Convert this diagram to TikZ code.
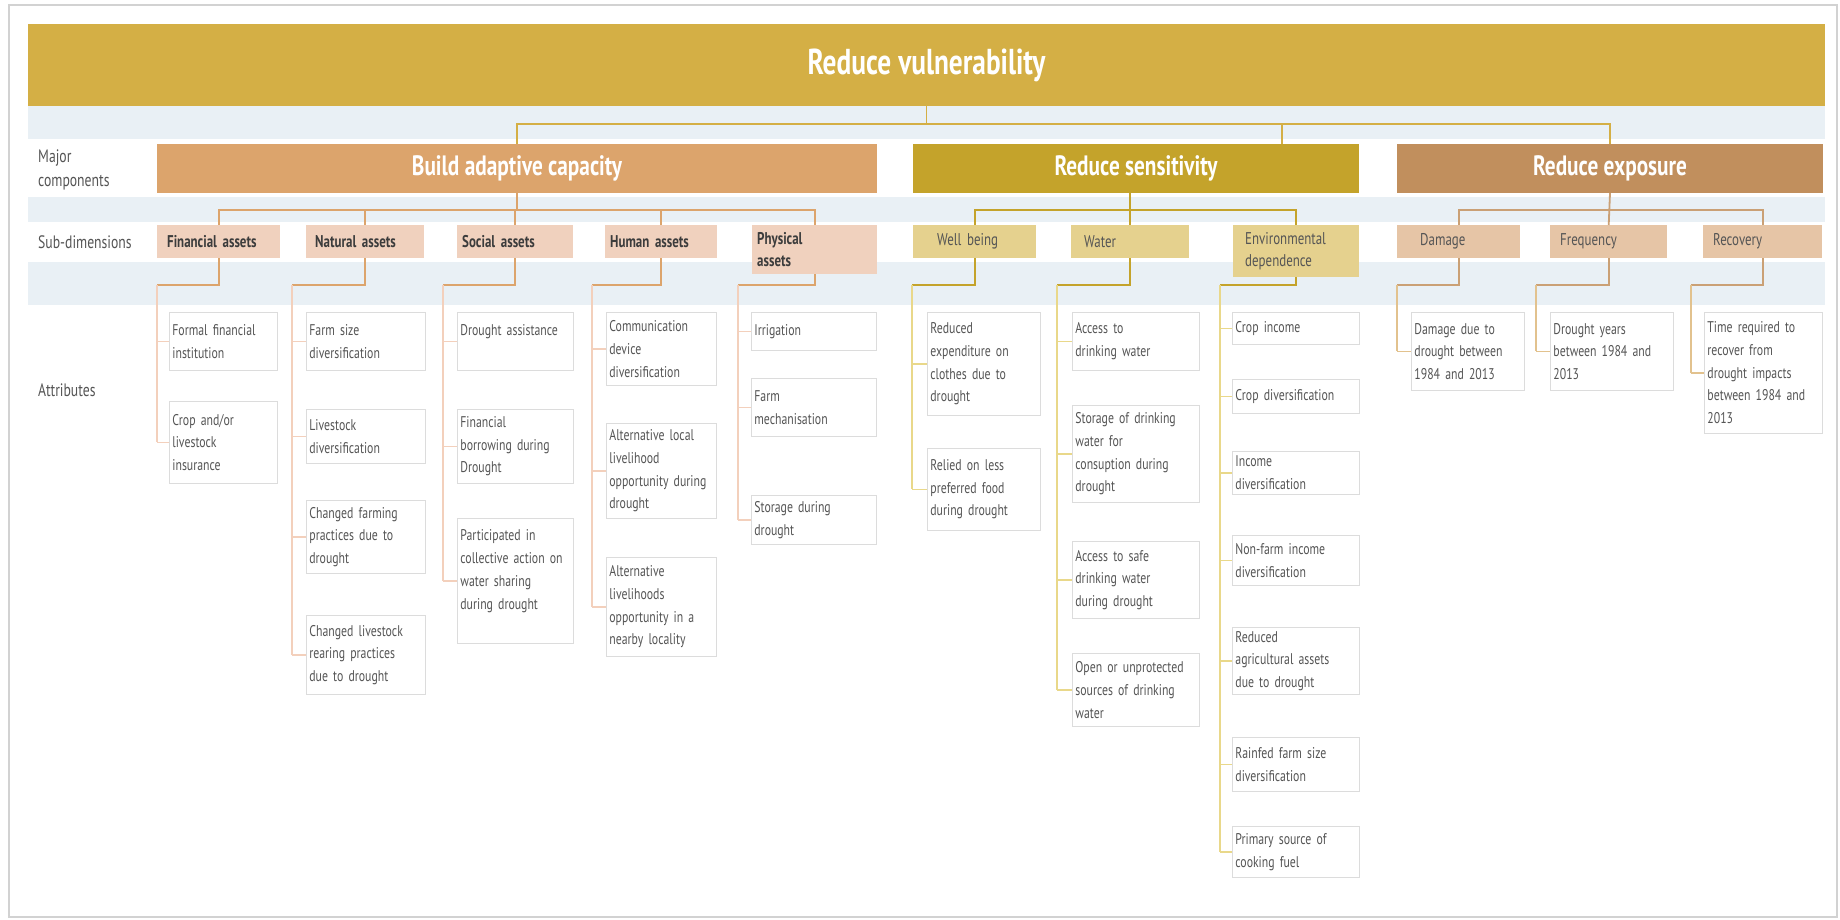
\documentclass[tikz,border=0pt]{standalone}
\usepackage{fontspec}
\setmainfont{PT Sans}[FakeStretch=0.76]
\usetikzlibrary{positioning,calc}

\definecolor{bannerc}{HTML}{D4AF45}
\definecolor{adaptc}{HTML}{DCA46C}
\definecolor{sensc}{HTML}{C4A32B}
\definecolor{expoc}{HTML}{C18F5D}
\definecolor{adaptsub}{HTML}{F0D1BE}
\definecolor{senssub}{HTML}{E5D18E}
\definecolor{exposub}{HTML}{E6C5A6}
\definecolor{adaptlt}{HTML}{F3D0BC}
\definecolor{senslt}{HTML}{E9D88A}
\definecolor{expolt}{HTML}{E2C28E}
\definecolor{bandc}{HTML}{E9F0F5}
\definecolor{boxline}{HTML}{DCDCDC}
\definecolor{txtc}{HTML}{555555}
\definecolor{subtxt}{HTML}{3C3C3C}
\definecolor{framec}{HTML}{D2D2D2}

\tikzset{
  major/.style={inner sep=0pt, minimum height=49pt, text=white, font=\bfseries\fontsize{28}{32}\selectfont},
  subdim/.style={anchor=north west, inner sep=0pt, minimum height=33pt, align=left, text=txtc, font=\fontsize{17}{21.5}\selectfont},
  subbold/.style={subdim, text=subtxt, font=\bfseries\fontsize{17}{21.5}\selectfont},
  attr/.style={anchor=north west, draw=boxline, fill=white, line width=0.8pt, inner xsep=3pt, inner ysep=0pt, align=left, text=txtc, font=\fontsize{15.5}{22.7}\selectfont},
  rowlabel/.style={anchor=west, inner sep=0pt, align=left, text=txtc, font=\fontsize{18}{24}\selectfont},
  topline/.style={draw=bannerc, line width=1.8pt},
  adline/.style={draw=adaptc, line width=1.8pt},
  adtick/.style={draw=adaptlt, line width=1.4pt},
  seline/.style={draw=sensc, line width=1.8pt},
  setick/.style={draw=senslt, line width=1.4pt},
  exline/.style={draw=expoc!85, line width=1.8pt},
  extick/.style={draw=expolt, line width=1.4pt}
}

\begin{document}
\begin{tikzpicture}[x=1pt,y=-1pt]
\useasboundingbox (0,0) rectangle (1840,920);
% frame and background bands
\draw[framec, line width=2.5pt, fill=white] (9,5) rectangle (1837,917);
\fill[bandc] (28,106) rectangle (1825,139);
\fill[bandc] (28,197) rectangle (1825,222);
\fill[bandc] (28,262) rectangle (1825,305);

% row labels
\node[rowlabel] (lMajor) at (38,170) {Major\\components};
\node[rowlabel] (lSub) at (38,242) {Sub-dimensions};
\node[rowlabel] (lAttr) at (38,390) {Attributes};

% goal and major components
\node[inner sep=0pt, fill=bannerc, minimum width=1797pt, minimum height=82pt, text=white, font=\bfseries\fontsize{36}{40}\selectfont] (top) at (926.5,65) {Reduce vulnerability};
\node[major, fill=adaptc, minimum width=720pt] (adapt) at (517,168.5) {Build adaptive capacity};
\node[major, fill=sensc, minimum width=446pt] (sens) at (1136,168.5) {Reduce sensitivity};
\node[major, fill=expoc, minimum width=426pt] (expo) at (1610,168.5) {Reduce exposure};

% sub-dimensions
\node[subbold, fill=adaptsub, minimum width=123pt, text width=103pt] (fin) at (157,225) {Financial assets};
\node[subbold, fill=adaptsub, minimum width=118pt, text width=100pt] (nat) at (306,225) {Natural assets};
\node[subbold, fill=adaptsub, minimum width=116pt, text width=106pt] (soc) at (457,225) {Social assets};
\node[subbold, fill=adaptsub, minimum width=112pt, text width=102pt] (hum) at (605,225) {Human assets};
\node[subbold, fill=adaptsub, minimum width=125pt, minimum height=49pt, text width=115pt] (phy) at (752,225) {Physical\\assets};
\node[subdim, fill=senssub, minimum width=123pt, text width=75pt] (wel) at (913,225) {Well being};
\node[subdim, fill=senssub, minimum width=118pt, text width=92pt] (wat) at (1071,225) {Water};
\node[subdim, fill=senssub, minimum width=126pt, minimum height=52pt, text width=102pt] (env) at (1233,225) {Environmental\\dependence};
\node[subdim, fill=exposub, minimum width=123pt, text width=77pt] (dam) at (1397,225) {Damage};
\node[subdim, fill=exposub, minimum width=117pt, text width=97pt] (fre) at (1550,225) {Frequency};
\node[subdim, fill=exposub, minimum width=119pt, text width=99pt] (rec) at (1703,225) {Recovery};

% attributes: adaptive capacity
\node[attr, text width=102pt, minimum height=58pt] (fin1) at (169,312) {Formal financial\\institution};
\node[attr, text width=102pt, minimum height=82pt] (fin2) at (169,401) {Crop and/or\\livestock\\insurance};
\node[attr, text width=113pt, minimum height=58pt] (nat1) at (306,312) {Farm size\\diversification};
\node[attr, text width=113pt, minimum height=54pt] (nat2) at (306,409) {Livestock\\diversification};
\node[attr, text width=113pt, minimum height=73pt] (nat3) at (306,500) {Changed farming\\practices due to\\drought};
\node[attr, text width=113pt, minimum height=79pt] (nat4) at (306,615) {Changed livestock\\rearing practices\\due to drought};
\node[attr, text width=110pt, minimum height=58pt] (soc1) at (457,312) {Drought assistance\\\mbox{}};
\node[attr, text width=110pt, minimum height=74pt] (soc2) at (457,409) {Financial\\borrowing during\\Drought};
\node[attr, text width=110pt, minimum height=125pt] (soc3) at (457,518) {Participated in\\collective action on\\water sharing\\during drought\\\mbox{}};
\node[attr, text width=104pt, minimum height=73pt] (hum1) at (606,312) {Communication\\device\\diversification};
\node[attr, text width=104pt, minimum height=95pt] (hum2) at (606,423) {Alternative local\\livelihood\\opportunity during\\drought};
\node[attr, text width=104pt, minimum height=99pt] (hum3) at (606,557) {Alternative\\livelihoods\\opportunity in a\\nearby locality};
\node[attr, text width=119pt, minimum height=38pt] (phy1) at (751,312) {Irrigation};
\node[attr, text width=119pt, minimum height=58pt] (phy2) at (751,378) {Farm\\mechanisation};
\node[attr, text width=119pt, minimum height=49pt] (phy3) at (751,495) {Storage during\\drought};

% attributes: sensitivity
\node[attr, text width=107pt, minimum height=103pt] (wel1) at (927,312) {Reduced\\expenditure on\\clothes due to\\drought};
\node[attr, text width=107pt, minimum height=82pt] (wel2) at (927,448) {Relied on less\\preferred food\\during drought};
\node[attr, text width=121pt, minimum height=58pt] (wat1) at (1072,312) {Access to\\drinking water};
\node[attr, text width=121pt, minimum height=97pt] (wat2) at (1072,405) {Storage of drinking\\water for\\consuption during\\drought};
\node[attr, text width=121pt, minimum height=77pt] (wat3) at (1072,541) {Access to safe\\drinking water\\during drought};
\node[attr, text width=121pt, minimum height=73pt] (wat4) at (1072,653) {Open or unprotected\\sources of drinking\\water};
\node[attr, text width=121pt, minimum height=32pt] (env1) at (1232,312) {Crop income};
\node[attr, text width=121pt, minimum height=34pt] (env2) at (1232,379) {Crop diversification};
\node[attr, text width=121pt, minimum height=43pt] (env3) at (1232,451) {Income\\diversification};
\node[attr, text width=121pt, minimum height=50pt] (env4) at (1232,535) {Non-farm income\\diversification};
\node[attr, text width=121pt, minimum height=67pt] (env5) at (1232,627) {Reduced\\agricultural assets\\due to drought};
\node[attr, text width=121pt, minimum height=54pt] (env6) at (1232,737) {Rainfed farm size\\diversification};
\node[attr, text width=121pt, minimum height=51pt] (env7) at (1232,826) {Primary source of\\cooking fuel};

% attributes: exposure
\node[attr, text width=107pt, minimum height=78pt] (dam1) at (1411,312) {Damage due to\\drought between\\1984 and 2013};
\node[attr, text width=117pt, minimum height=78pt] (fre1) at (1550,312) {Drought years\\between 1984 and\\2013};
\node[attr, text width=112pt, minimum height=121pt] (rec1) at (1704,312) {Time required to\\recover from\\drought impacts\\between 1984 and\\2013};

% connectors, top level
\coordinate (hub) at ($(top.south)+(0,18)$);
\coordinate (sensIn) at ($(sens.north)+(146,0)$);
\draw[topline] (top.south) -- (hub);
\draw[topline] (adapt.north) |- (hub) -| (expo.north);
\draw[topline] (sensIn) -- (sensIn |- hub);

% connectors, major to sub-dimensions
\coordinate (adHub) at ($(adapt.south)+(0,17)$);
\draw[adline] (adapt.south) -- (adHub);
\foreach \n in {fin,nat,soc,hum,phy} \draw[adline] (\n.north) |- (adHub);
\coordinate (seHub) at ($(wat.north)+(0,-15)$);
\draw[seline] (sens.south -| seHub) -- (wat.north);
\draw[seline] (wel.north) |- (seHub) -| (env.north);
\coordinate (exHub) at ($(expo.south)+(0,17)$);
\draw[exline] (expo.south) -- (fre.north);
\draw[exline] (dam.north) |- (exHub) -| (rec.north);

% connectors, sub-dimensions to attributes
\coordinate (finS) at (157,285);
\coordinate (natS) at (292,285);
\coordinate (socS) at (443,285);
\coordinate (humS) at (592,285);
\coordinate (phyS) at (738,285);
\coordinate (welS) at (912,285);
\coordinate (watS) at (1057,285);
\coordinate (envS) at (1220,285);
\coordinate (damS) at (1397,285);
\coordinate (freS) at (1536,285);
\coordinate (recS) at (1691,285);

\foreach \s/\last in {fin/fin2,nat/nat4,soc/soc3,hum/hum3,phy/phy3}{
  \draw[adline] (\s.south) |- (\s S);
  \draw[adtick] (\s S) -- (\s S |- \last.west);
}
\foreach \s/\last in {wel/wel2,wat/wat4,env/env7}{
  \draw[seline] (\s.south) |- (\s S);
  \draw[setick] (\s S) -- (\s S |- \last.west);
}
\foreach \s/\last in {dam/dam1,fre/fre1,rec/rec1}{
  \draw[exline] (\s.south) |- (\s S);
  \draw[extick] (\s S) -- (\s S |- \last.west);
}

\foreach \n in {fin1,fin2} \draw[adtick] (finS |- \n.west) -- (\n.west);
\foreach \n in {nat1,nat2,nat3,nat4} \draw[adtick] (natS |- \n.west) -- (\n.west);
\foreach \n in {soc1,soc2,soc3} \draw[adtick] (socS |- \n.west) -- (\n.west);
\foreach \n in {hum1,hum2,hum3} \draw[adtick] (humS |- \n.west) -- (\n.west);
\foreach \n in {phy1,phy2,phy3} \draw[adtick] (phyS |- \n.west) -- (\n.west);
\foreach \n in {wel1,wel2} \draw[setick] (welS |- \n.west) -- (\n.west);
\foreach \n in {wat1,wat2,wat3,wat4} \draw[setick] (watS |- \n.west) -- (\n.west);
\foreach \n in {env1,env2,env3,env4,env5,env6,env7} \draw[setick] (envS |- \n.west) -- (\n.west);
\draw[extick] (damS |- dam1.west) -- (dam1.west);
\draw[extick] (freS |- fre1.west) -- (fre1.west);
\draw[extick] (recS |- rec1.west) -- (rec1.west);
\end{tikzpicture}
\end{document}
